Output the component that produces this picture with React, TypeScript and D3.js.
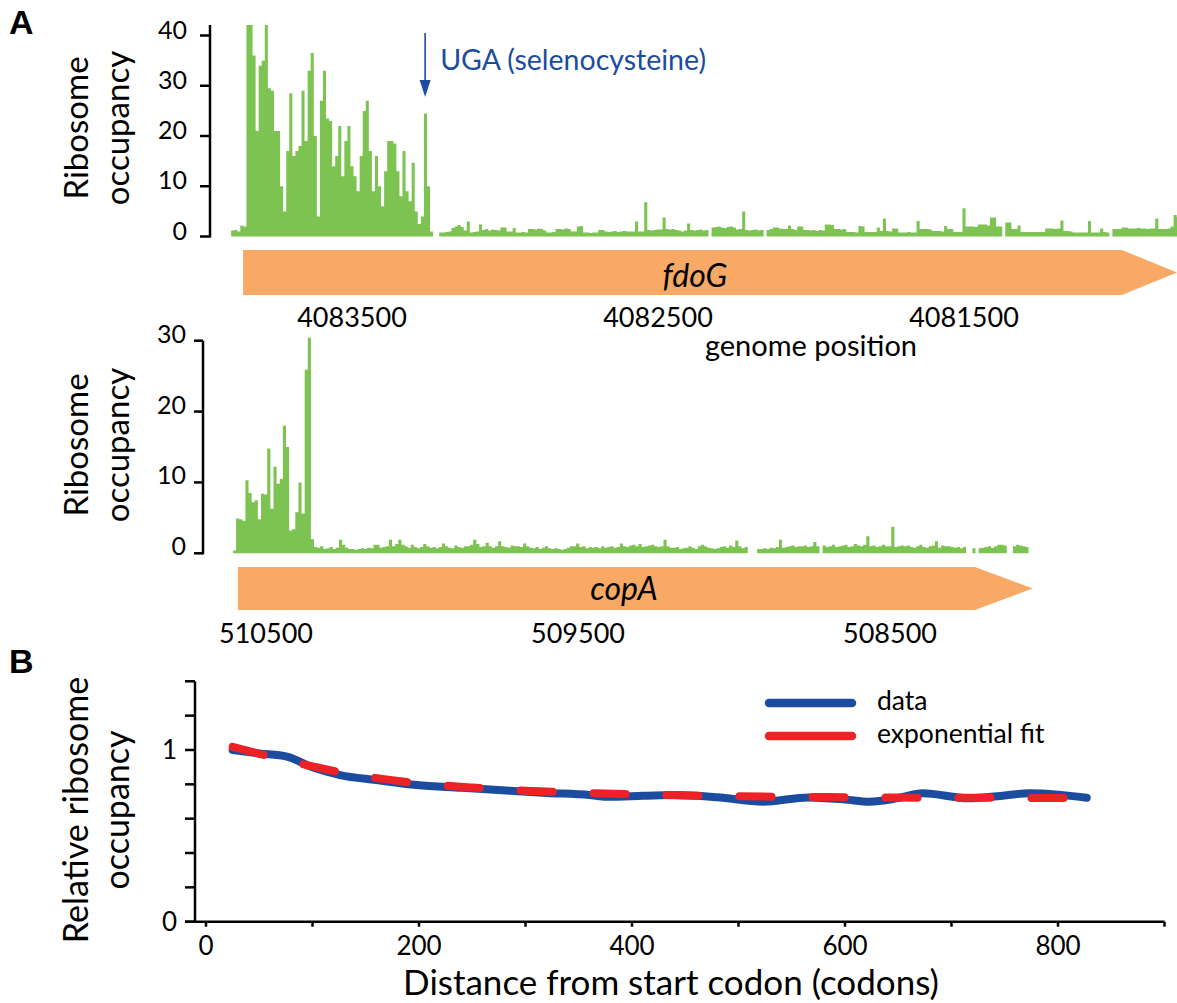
import React from "react";
import * as d3 from "d3";

const FONT = "Lato, 'Open Sans', sans-serif";
const GREEN = "#7dc351";
const ORANGE = "#f8a966";
const BLUE = "#1c4ca0";
const RED = "#ec2227";

// ---------- Panel A: fdoG ----------
const fdoGTicks = [4083500, 4082500, 4081500];
const fdoGYTicks = [0, 10, 20, 30, 40];
const fdoGBinStart = 4083895;
const binBp = 10;
const fdoGGeneStart = 4083856;
const fdoGGeneShaftEnd = 4080984;
const fdoGGeneEnd = 4080804;
const ugaPos = 4083261;
const fdoGOccupancy = [
  1.2, 1.3, 1.0, 2.2, 2.0, 45, 45, 36, 21, 34,
  35, 45, 29.5, 29, 21, 21, 10, 5, 17, 28.5,
  16, 17, 18, 29, 19, 33, 36.5, 20, 4, 27,
  33, 23.5, 23, 14, 16, 22, 12, 19, 22, 14,
  12, 9, 16, 25, 27, 17, 9, 16, 10, 6,
  13, 19, 19, 18.5, 13, 8, 17, 9, 7, 14.7,
  5, 2.5, 4, 24.5, 10, 1, 0, 0,
  0.8, 0.8, 0.9, 1.0, 1.7, 2.0, 2.3, 1.9, 1.2, 3.0,
  0.8, 0.9, 1.0, 2.4, 1.3, 1.5, 1.2, 1.4, 1.3, 1.2,
  1.8, 1.8, 1.0, 1.0, 1.7, 0.8, 0.8, 0.9, 0.8, 1.5,
  1.5, 1.4, 1.6, 1.5, 1.2, 0.8, 0.8, 0.9, 1.5, 1.5,
  1.4, 1.6, 1.5, 1.0, 1.0, 2.0, 2.1, 0.8, 0.8, 0.7,
  0.8, 0.8, 1.3, 1.3, 1.0, 0.9, 1.0, 1.1, 0.9, 1.0,
  1.1, 1.0, 1.0, 1.0, 3.0, 1.0, 1.0, 6.8, 1.3, 1.2,
  1.3, 1.4, 1.4, 3.8, 1.5, 1.4, 1.5, 1.3, 1.2, 1.0,
  1.2, 2.6, 1.3, 1.2, 1.3, 1.4, 1.2, 1.3, 0, 1.8,
  1.9, 2.0, 1.8, 1.7, 1.9, 2.0, 1.8, 1.4, 1.5, 5.0,
  1.3, 1.2, 1.3, 1.4, 1.2, 1.3, 0, 1.3, 1.5, 1.8,
  1.8, 1.6, 1.5, 1.5, 2.2, 1.5, 1.3, 2.0, 2.0, 1.3,
  1.3, 1.2, 1.3, 1.1, 1.3, 1.2, 2.4, 2.4, 2.3, 1.5,
  1.5, 1.4, 1.5, 0.9, 0.9, 0.9, 0.8, 2.1, 2.0, 0.9,
  0.9, 0.9, 0.9, 1.8, 1.1, 3.6, 1.1, 1.0, 1.6, 1.6,
  0.8, 0.8, 0.8, 0.9, 0.8, 0.8, 3.1, 1.5, 1.5, 1.5,
  1.4, 1.1, 1.1, 1.1, 1.0, 2.1, 1.5, 1.5, 0.9, 0.9,
  0.9, 5.6, 2.0, 2.0, 2.0, 1.9, 2.4, 2.4, 2.4, 2.2,
  3.8, 3.8, 2.0, 2.0, 0, 2.8, 2.8, 1.5, 1.5, 2.2,
  0.9, 0.9, 0.9, 0.9, 0.9, 0.9, 0.9, 0.9, 1.6, 1.6,
  1.6, 1.5, 1.6, 3.2, 1.1, 1.1, 1.0, 0.8, 0.8, 0.8,
  0.8, 0.8, 3.1, 0.8, 0.8, 0.8, 1.6, 0.9, 0.8, 0,
  1.5, 1.5, 1.5, 1.8, 1.8, 1.6, 1.6, 1.6, 1.7, 1.6,
  1.6, 1.5, 1.6, 1.6, 3.6, 1.5, 1.5, 1.5, 1.6, 2.0, 4.3, 3.9,
];

// ---------- Panel A: copA ----------
const copATicks = [510500, 509500, 508500];
const copAYTicks = [0, 10, 20, 30];
const copABinStart = 510606;
const copAGeneStart = 510590;
const copAGeneShaftEnd = 508228;
const copAGeneEnd = 508042;
const copAOccupancy = [
  0.4, 4.9, 4.8, 4.6, 10.3, 8.5, 7.2, 7.5, 4.8, 8.4,
  8.3, 14.8, 6.3, 12.2, 9.8, 10.5, 18, 15, 3.2, 3.4,
  5.8, 10, 5.6, 25.9, 30.4, 2.0, 0.9, 0.8, 1.0, 0.6,
  0.7, 0.9, 0.6, 0.8, 1.9, 1.2, 0.8, 0.6, 0.6, 0.5,
  0.6, 0.7, 0.6, 0.8, 0.7, 1.2, 1.2, 0.8, 0.9, 1.0,
  1.9, 1.0, 1.3, 1.9, 1.2,
  1.0, 0.8, 1.2, 0.9, 0.7, 0.9, 1.3, 1.0, 0.8, 0.9,
  0.7, 0.9, 1.4, 1.0, 0.8, 0.7, 1.1, 0.9, 0.8, 1.0,
  1.0, 1.2, 1.9, 1.3, 0.9, 1.0, 1.5, 1.0, 0.8, 1.0,
  1.7, 1.0, 0.9, 0.8, 1.1, 1.0, 1.0, 0.9, 1.4, 1.0,
  0.8, 0.7, 0.9, 0.6, 0.8, 1.0, 0.7, 0.6, 0.7, 0.6,
  0.5, 0.6, 0.8, 1.0, 1.0, 1.4, 0.9, 1.0, 0.7, 0.9,
  0.8, 0.9, 0.7, 1.0, 0.8, 0.9, 1.0, 0.8, 0.9, 1.4,
  1.0, 0.9, 1.1, 1.2, 1.0, 1.3, 0.9, 1.0, 1.1, 1.2,
  1.0, 0.9, 1.0, 1.9, 1.0, 0.8, 0.8, 0.9, 0.6, 0.7,
  0.8, 1.0, 0.8, 0.6, 1.0, 1.2, 1.0, 0.8, 0.7, 0.6,
  0.7, 0.9, 1.0, 0.8, 1.1, 0.9, 1.8, 1.0, 0.7, 0.9,
  0, 0, 0, 0.6, 0.6, 0.7, 0.6, 0.8, 0.7, 0.9,
  1.9, 0.8, 0.9, 1.0, 1.1, 0.9, 1.0, 1.0, 1.1, 0.9,
  1.0, 1.6, 1.0, 0, 1.1, 0.9, 1.0, 1.2, 0.9, 1.0,
  1.1, 1.2, 0.9, 1.0, 1.3, 1.1, 1.0, 1.2, 2.4, 1.0,
  1.1, 0.9, 1.0, 1.2, 1.0, 1.0, 3.75, 0.9, 1.0, 1.1,
  1.0, 1.1, 0.9, 0.8, 1.0, 1.2, 0.9, 0.8, 1.0, 1.1,
  1.7, 0.8, 1.1, 1.0, 1.0, 0.9, 0.8, 0.9, 0.7, 0.9,
  0, 0, 0.7, 0, 0.7, 0.8, 0.9, 1.0, 0.8, 1.0,
  1.2, 1.2, 1.1, 0, 0, 1.0, 1.2, 1.1, 1.0, 0.9,
];

// ---------- Panel B ----------
const codonPos = [25, 50, 76, 100, 126, 160, 198, 240, 274, 320, 360, 376, 410, 440, 480, 523, 566, 600, 623, 650, 673, 716, 750, 773, 800, 827];
const relOccupancy = [1.0, 0.98, 0.961, 0.9, 0.854, 0.825, 0.796, 0.78, 0.767, 0.75, 0.738, 0.728, 0.733, 0.738, 0.725, 0.699, 0.724, 0.712, 0.699, 0.72, 0.748, 0.719, 0.735, 0.748, 0.74, 0.722];
const fitCodon = [25, 50, 75, 100, 125, 150, 200, 250, 300, 350, 400, 450, 500, 550, 600, 650, 700, 750, 808];
const fitOccupancy = [1.018, 0.978, 0.94, 0.905, 0.872, 0.846, 0.806, 0.781, 0.763, 0.751, 0.742, 0.735, 0.73, 0.727, 0.725, 0.723, 0.722, 0.721, 0.72];
const bXTicks = [0, 100, 200, 300, 400, 500, 600, 700, 800, 900];
const bXLabels = [0, 200, 400, 600, 800];
const bYTicks = [0, 0.2, 0.4, 0.6, 0.8, 1.0, 1.2, 1.4];
const bYLabels = [0, 1];
const legendLabels = ["data", "exponential fit"];

function binsToPoints(values: number[], start: number): [number, number][] {
  const pts: [number, number][] = values.map((v, i) => [start - i * binBp, v]);
  pts.push([start - values.length * binBp, values[values.length - 1]]);
  return pts;
}

function genePath(x: d3.ScaleLinear<number, number>, s: number, m: number, e: number, top: number, bot: number) {
  const mid = (top + bot) / 2;
  return `M${x(s)},${top}L${x(m)},${top}L${x(e)},${mid}L${x(m)},${bot}L${x(s)},${bot}Z`;
}

export default function App() {
  const xF = d3.scaleLinear().domain([4083500, 4081500]).range([352, 964]);
  const yF = d3.scaleLinear().domain([0, 40]).range([236.5, 35.5]);
  const xC = d3.scaleLinear().domain([510500, 508500]).range([266, 890]);
  const yC = d3.scaleLinear().domain([0, 30]).range([553.3, 340.7]);
  const xB = d3.scaleLinear().domain([0, 900]).range([206, 1164.5]);
  const yB = d3.scaleLinear().domain([0, 1.4]).range([921.7, 681.3]);

  const areaF = d3
    .area<[number, number]>()
    .x((d) => xF(d[0]))
    .y0(yF(0))
    .y1((d) => yF(d[1]))
    .curve(d3.curveStepAfter);
  const areaC = d3
    .area<[number, number]>()
    .x((d) => xC(d[0]))
    .y0(yC(0))
    .y1((d) => yC(d[1]))
    .curve(d3.curveStepAfter);

  const dataLine = d3
    .line<number>()
    .x((_, i) => xB(codonPos[i]))
    .y((d) => yB(d))
    .curve(d3.curveMonotoneX);
  const fitLine = d3
    .line<number>()
    .x((_, i) => xB(fitCodon[i]))
    .y((d) => yB(d))
    .curve(d3.curveMonotoneX);

  const axisStroke = { stroke: "#000", strokeWidth: 2.5 };

  return (
    <svg
      width={1177}
      height={1003}
      style={{ position: "absolute", left: 0, top: 0, background: "#fff" }}
      fontFamily={FONT}
    >
      <defs>
        <clipPath id="clipTop">
          <rect x={0} y={25} width={1177} height={220} />
        </clipPath>
      </defs>

      {/* Panel labels */}
      <text x={9} y={34} fontFamily="'Liberation Sans', Arial, sans-serif" fontWeight="bold" fontSize={34}>A</text>
      <text x={9} y={673} fontFamily="'Liberation Sans', Arial, sans-serif" fontWeight="bold" fontSize={34}>B</text>

      {/* ---- fdoG ---- */}
      <g fontSize={33}>
        <text transform="translate(88,128) rotate(-90)" textAnchor="middle">Ribosome</text>
        <text transform="translate(129,128) rotate(-90)" textAnchor="middle">occupancy</text>
      </g>
      <line x1={210} x2={210} y1={25} y2={yF(0) + 1} {...axisStroke} />
      {fdoGYTicks.map((t) => (
        <g key={t}>
          <line x1={200} x2={210} y1={yF(t)} y2={yF(t)} {...axisStroke} />
          <text x={187} y={yF(t) + 3} textAnchor="end" fontSize={25}>{t}</text>
        </g>
      ))}
      <path d={areaF(binsToPoints(fdoGOccupancy, fdoGBinStart)) || ""} fill={GREEN} clipPath="url(#clipTop)" />
      <path d={genePath(xF, fdoGGeneStart, fdoGGeneShaftEnd, fdoGGeneEnd, 250, 295)} fill={ORANGE} />
      <text x={695} y={287} textAnchor="middle" fontSize={32} fontStyle="italic">fdoG</text>
      {fdoGTicks.map((t) => (
        <text key={t} x={xF(t)} y={327} textAnchor="middle" fontSize={27}>{t}</text>
      ))}
      <text x={811} y={356} textAnchor="middle" fontSize={29}>genome position</text>
      {/* UGA annotation */}
      <line x1={xF(ugaPos)} x2={xF(ugaPos)} y1={33} y2={84} stroke={BLUE} strokeWidth={1.6} />
      <path d={`M${xF(ugaPos) - 5.5},${80}L${xF(ugaPos) + 5.5},${80}L${xF(ugaPos)},${97}Z`} fill={BLUE} />
      <text x={xF(ugaPos) + 15} y={70} fill={BLUE} fontSize={28.5}>UGA (selenocysteine)</text>

      {/* ---- copA ---- */}
      <g fontSize={33}>
        <text transform="translate(88,445) rotate(-90)" textAnchor="middle">Ribosome</text>
        <text transform="translate(129,445) rotate(-90)" textAnchor="middle">occupancy</text>
      </g>
      <line x1={203} x2={203} y1={yC(30)} y2={yC(0) + 1} {...axisStroke} />
      {copAYTicks.map((t) => (
        <g key={t}>
          <line x1={194} x2={203} y1={yC(t)} y2={yC(t)} {...axisStroke} />
          <text x={186} y={yC(t) + 2} textAnchor="end" fontSize={25}>{t}</text>
        </g>
      ))}
      <path d={areaC(binsToPoints(copAOccupancy, copABinStart)) || ""} fill={GREEN} />
      <path d={genePath(xC, copAGeneStart, copAGeneShaftEnd, copAGeneEnd, 567, 610)} fill={ORANGE} />
      <text x={624} y={600} textAnchor="middle" fontSize={32} fontStyle="italic">copA</text>
      {copATicks.map((t) => (
        <text key={t} x={xC(t)} y={643} textAnchor="middle" fontSize={27}>{t}</text>
      ))}

      {/* ---- Panel B ---- */}
      <g fontSize={34}>
        <text transform="translate(88,810) rotate(-90)" textAnchor="middle">Relative ribosome</text>
        <text transform="translate(129,810) rotate(-90)" textAnchor="middle">occupancy</text>
      </g>
      <line x1={195} x2={195} y1={yB(1.4)} y2={yB(0)} {...axisStroke} />
      <line x1={185} x2={xB(900)} y1={yB(0)} y2={yB(0)} {...axisStroke} />
      {bYTicks.map((t) => (
        <line key={t} x1={185} x2={195} y1={yB(t)} y2={yB(t)} {...axisStroke} />
      ))}
      {bYLabels.map((t) => (
        <text key={t} x={177} y={yB(t) + 9} textAnchor="end" fontSize={26}>{t}</text>
      ))}
      {bXTicks.map((t) => (
        <line key={t} x1={xB(t)} x2={xB(t)} y1={yB(0)} y2={yB(0) + 5} {...axisStroke} />
      ))}
      {bXLabels.map((t) => (
        <text key={t} x={xB(t)} y={955} textAnchor="middle" fontSize={26}>{t}</text>
      ))}
      <text x={671} y={995} textAnchor="middle" fontSize={35}>Distance from start codon (codons)</text>

      <path d={dataLine(relOccupancy) || ""} fill="none" stroke={BLUE} strokeWidth={8} strokeLinecap="round" strokeLinejoin="round" />
      <path d={fitLine(fitOccupancy) || ""} fill="none" stroke={RED} strokeWidth={8} strokeLinecap="round" strokeDasharray="32 41" />

      {/* legend */}
      <line x1={769} x2={852} y1={703} y2={703} stroke={BLUE} strokeWidth={8.5} strokeLinecap="round" />
      <line x1={769} x2={852} y1={736} y2={736} stroke={RED} strokeWidth={8.5} strokeLinecap="round" />
      <text x={877} y={710} fontSize={26.5}>{legendLabels[0]}</text>
      <text x={877} y={743} fontSize={26.5}>{legendLabels[1]}</text>
    </svg>
  );
}
